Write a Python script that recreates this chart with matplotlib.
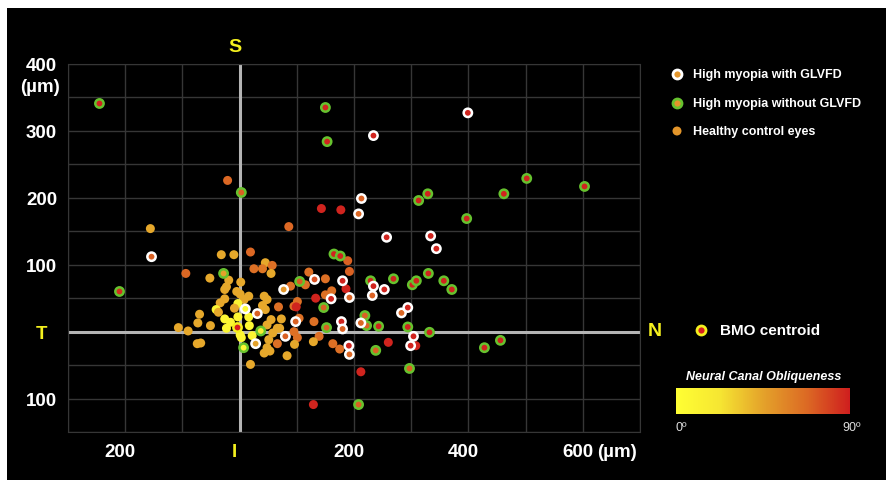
import numpy as np
import matplotlib
matplotlib.use('Agg')
import matplotlib.pyplot as plt
from matplotlib.colors import LinearSegmentedColormap, Normalize
from matplotlib.patches import Rectangle
from matplotlib.cm import ScalarMappable
from matplotlib.transforms import ScaledTranslation

plt.rcParams['font.family'] = ['Liberation Sans', 'DejaVu Sans']

# high myopia with GLVFD: x (µm), y (µm), neural canal obliqueness (deg)
glvfd_x = [-154, 213, 208, 399, 234, 257, 334, 344, 180, 192, 160, 234, 232, 253, 283,
           294, 178, 180, 212, 304, 299, 191, 192, 10, 28, 31, 77, 80, 98, 131]
glvfd_y = [112, 199, 176, 327, 293, 141, 143, 124, 76, 51, 49, 68, 54, 63, 28,
           36, 15, 4, 13, -7, -21, -21, -34, 34, -18, 27, 63, -7, 15, 78]
glvfd_angle = [70, 70, 68, 88, 88, 88, 88, 88, 88, 70, 88, 88, 70, 88, 68,
               88, 88, 70, 68, 88, 88, 88, 68, 5, 45, 70, 50, 70, 70, 75]

# high myopia without GLVFD
noglvfd_x = [-245, -210, 3, 150, 153, 313, 329, 462, 502, 603, 397, 165, 176, 229, 269,
             302, 309, 330, 357, 371, 219, 222, 243, 294, 332, 238, 428, 456, 208, 297,
             -28, 7, 37, 147, 152, 105]
noglvfd_y = [341, 60, 208, 335, 284, 196, 206, 206, 229, 217, 169, 116, 113, 76, 79,
             70, 76, 87, 76, 63, 24, 9, 8, 7, -1, -28, -24, -13, -109, -55,
             87, -24, 1, 36, 6, 75]
noglvfd_angle = [88, 85, 70, 88, 88, 88, 88, 88, 88, 88, 88, 88, 88, 88, 88,
                 88, 88, 88, 88, 88, 70, 70, 88, 88, 88, 70, 88, 88, 70, 70,
                 45, 8, 15, 70, 70, 72]

# healthy control eyes
healthy_x = [-156, -94, -21, 86, 143, 177, 189, 192, 260, 129, 212, 308,
             -32, -10, 19, 45, 57, 40, 25, 55, -52, -19, 2, -23, -26, -5, 1, 16, 8,
             -34, -26, -3, -41, -37, -9, -3, -26, 16, 17, -23, -16, 1, 3, 22,
             -74, -68, -107, -90, -73, -51, -70, 19, 43, 53, 45, 48, 40, 68, 55,
             70, 48, 51, 58, 66, 83, 89, 95, 101, 99, 95, 101, 104, 121, 115, 150,
             133, 150, 161, 186, 130, 139, 129, 163, 175, 96, 48, 66, 73, 43]
healthy_y = [154, 87, 226, 157, 184, 182, 106, 90, -16, -109, -60, -21,
             115, 115, 119, 103, 99, 94, 94, 87, 80, 77, 74, 67, 63, 60, 56, 53, 48,
             43, 49, 42, 33, 29, 35, 22, 19, 22, 9, 5, 14, -5, -9, -6,
             -18, -17, 6, 1, 13, 9, 26, -49, -32, -29, 33, 48, 39, 37, 18,
             5, 10, -12, -2, -18, -36, 68, 38, 45, 37, 0, -9, 20, 89, 70, 79,
             50, 55, 61, 64, 15, -7, -15, -18, -26, -19, -24, 5, 19, 53]
healthy_angle = [43, 68, 68, 68, 88, 88, 70, 70, 88, 88, 88, 88,
                 43, 43, 68, 43, 65, 62, 65, 43, 43, 43, 43, 43, 43, 43, 43, 43, 43,
                 43, 43, 10, 8, 43, 43, 6, 6, 8, 6, 6, 6, 6, 8, 10,
                 43, 43, 43, 43, 43, 43, 43, 43, 43, 43, 43, 43, 43, 65, 43,
                 43, 43, 43, 43, 65, 43, 65, 65, 65, 88, 65, 65, 65, 65, 65, 65,
                 88, 65, 65, 88, 65, 65, 43, 65, 65, 43, 43, 43, 43, 43]

centroid_x = [-4]
centroid_y = [7]

W, H = 887, 481
cmap = LinearSegmentedColormap.from_list(
    'obl', ['#ffff33', '#f6e632', '#e4a22a', '#dc6a24', '#cf1e1e'])
norm = Normalize(0, 90)
yellow = '#f4f01e'
green = '#66c22e'


def fx(p):
    return p / W


def fy(p):
    return 1 - p / H


fig = plt.figure(figsize=(W / 100, H / 100), dpi=100)
fig.patch.set_facecolor('white')
fig.add_artist(Rectangle((fx(7), 0), 1, fy(9), transform=fig.transFigure,
                         facecolor='black', edgecolor='none', zorder=-10))

ax = fig.add_axes([fx(68), fy(433), fx(640) - fx(68), fy(65) - fy(433)])
ax.set_facecolor('black')
ax.set_xlim(-300, 700)
ax.set_ylim(-150, 400)

ax.set_xticks([-200, 0, 200, 400, 600])
ax.set_xticklabels(['200', 'I', '200', '400', '600'])
ax.set_xticks(np.arange(-300, 701, 100), minor=True)
ax.set_yticks([-100, 0, 100, 200, 300, 400])
ax.set_yticklabels(['100', 'T', '100', '200', '300', '400'])
ax.set_yticks(np.arange(-150, 401, 50), minor=True)
ax.grid(which='both', color='#363636', lw=1)
ax.set_axisbelow(True)
for s in ax.spines.values():
    s.set_color('#363636')
ax.tick_params(which='both', length=0, labelsize=13.5, labelcolor='white')
ax.tick_params(axis='y', pad=19)
ax.tick_params(axis='x', pad=8)
for lbl in ax.get_yticklabels():
    lbl.set_ha('center')
for lbl in ax.get_xticklabels() + ax.get_yticklabels():
    lbl.set_fontweight('bold')
ax.get_xticklabels()[1].set_color(yellow)
ax.get_yticklabels()[1].set_color(yellow)
shift = ScaledTranslation(-5 / 100, 0, fig.dpi_scale_trans)
for tk in ax.xaxis.get_major_ticks():
    tk.label1.set_transform(tk.label1.get_transform() + shift)

ax.axhline(0, color='#b4b4b4', lw=2.2, zorder=1.5)
ax.axvline(0, color='#b4b4b4', lw=2.2, zorder=1.5)

ax.scatter(healthy_x, healthy_y, c=healthy_angle, cmap=cmap, norm=norm,
           s=42, edgecolors='none', zorder=3)
ax.scatter(noglvfd_x, noglvfd_y, c=noglvfd_angle, cmap=cmap, norm=norm,
           s=36, edgecolors=green, linewidths=1.8, zorder=4)
ax.scatter(glvfd_x, glvfd_y, c=glvfd_angle, cmap=cmap, norm=norm,
           s=36, edgecolors='white', linewidths=1.8, zorder=5)
ax.scatter(centroid_x, centroid_y, color='#d81e1e', s=36, edgecolors=yellow,
           linewidths=1.8, zorder=6)

# direction letters and units
fig.text(fx(235), fy(48), 'S', color=yellow, fontsize=14, fontweight='bold',
         ha='center', va='center')
fig.text(fx(655), fy(332), 'N', color=yellow, fontsize=14, fontweight='bold',
         ha='center', va='center')
fig.text(fx(40), fy(87), '(µm)', color='white', fontsize=13.5, fontweight='bold',
         ha='center', va='center')
fig.text(fx(597), fy(453), '(µm)', color='white', fontsize=13.5, fontweight='bold',
         ha='left', va='center')

# legend
lax = fig.add_axes([0, 0, 1, 1])
lax.set_xlim(0, W)
lax.set_ylim(H, 0)
lax.axis('off')
lax.patch.set_alpha(0)
leg_items = [('High myopia with GLVFD', 'white'),
             ('High myopia without GLVFD', green),
             ('Healthy control eyes', None)]
for i, (label, edge) in enumerate(leg_items):
    yy = 75 + 28.5 * i
    if edge is None:
        lax.scatter([677], [yy], color='#e3952a', s=42, edgecolors='none')
    else:
        lax.scatter([677], [yy], color='#e3952a', s=42, edgecolors=edge, linewidths=2)
    lax.text(693, yy, label, color='white', fontsize=9, fontweight='bold',
             va='center', ha='left')
lax.scatter([701], [331], color='#d81e1e', s=42, edgecolors=yellow, linewidths=2)
lax.text(720, 331, 'BMO centroid', color='white', fontsize=11, fontweight='bold',
         va='center', ha='left')

# colorbar
cax = fig.add_axes([fx(676), fy(415), fx(850) - fx(676), fy(389) - fy(415)])
cb = fig.colorbar(ScalarMappable(norm=norm, cmap=cmap), cax=cax, orientation='horizontal')
cb.outline.set_visible(False)
cb.set_ticks([])
fig.text(fx(764), fy(377), 'Neural Canal Obliqueness', color='white', fontsize=9,
         fontweight='bold', fontstyle='italic', ha='center', va='center')
fig.text(fx(676), fy(428), '0º', color='#dddddd', fontsize=9, ha='left', va='center')
fig.text(fx(861), fy(428), '90º', color='#dddddd', fontsize=9, ha='right', va='center')

fig.savefig('out.png', dpi=100, facecolor=fig.get_facecolor())
